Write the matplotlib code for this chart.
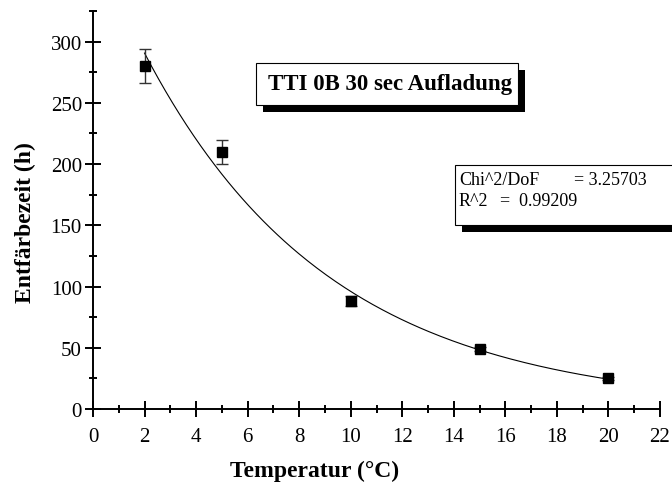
import numpy as np
import matplotlib.pyplot as plt
from matplotlib.patches import Rectangle
from matplotlib.ticker import MultipleLocator

plt.rcParams['font.family'] = ['Liberation Serif', 'DejaVu Serif']

# measured decolouring times with error bars
temps = [2, 5, 10, 15, 20]
times = [280, 210, 88, 49, 25]
errors = [14, 10, 4, 2, 1]

# ExpDec1 fit: y = y0 + A*exp(-x/t)
fit_y0 = 0.5
fit_A = 383
fit_t = 7.2

W, H = 672, 489
fig = plt.figure(figsize=(W / 100, H / 100), dpi=100)
ax = fig.add_axes([93 / W, 1 - 410 / H, (660 - 93) / W, (410 - 12) / H])

xs = np.linspace(2, 20, 200)
ax.plot(xs, fit_y0 + fit_A * np.exp(-xs / fit_t), color='black', lw=0.8)
ax.errorbar(temps, times, yerr=errors, fmt='s', color='black', ms=6.5,
            ecolor='#333333', elinewidth=1.0, capsize=4.5, capthick=1.0)

ax.set_xlim(0, 22)
ax.set_ylim(0, 325)
ax.xaxis.set_major_locator(MultipleLocator(2))
ax.xaxis.set_minor_locator(MultipleLocator(1))
ax.yaxis.set_minor_locator(MultipleLocator(25))
ax.set_yticks([0, 50, 100, 150, 200, 250, 300])
for s in ['top', 'right']:
    ax.spines[s].set_visible(False)
for s in ['left', 'bottom']:
    ax.spines[s].set_linewidth(1.4)
ax.tick_params(which='major', direction='inout', length=12, width=1.4,
               labelsize=15, pad=2)
ax.tick_params(axis='x', which='major', pad=7)
ax.tick_params(which='minor', direction='inout', length=6, width=1.4)


def px(x, y):
    # pixel position (top-left origin) -> figure fraction
    return x / W, 1 - y / H


fig.text(*px(315, 471), 'Temperatur (°C)', fontsize=17, fontweight='bold',
         ha='center', va='center')
fig.text(*px(25, 223), 'Entfärbezeit (h)', fontsize=17, fontweight='bold',
         ha='center', va='center', rotation=90)


def shadow_box(x0, y0, x1, y1, off=7):
    # white box with a black drop shadow, pixel coords
    tr = fig.transFigure
    fig.add_artist(Rectangle(px(x0 + off, y1 + off), (x1 - x0) / W, (y1 - y0) / H,
                             facecolor='black', edgecolor='none', transform=tr))
    fig.add_artist(Rectangle(px(x0, y1), (x1 - x0) / W, (y1 - y0) / H,
                             facecolor='white', edgecolor='black', lw=0.8,
                             transform=tr))


shadow_box(256, 64, 518, 106)
fig.text(*px(390, 85), 'TTI 0B 30 sec Aufladung', fontsize=16.5,
         fontweight='bold', ha='center', va='center')

shadow_box(455, 166, 700, 226)
fig.text(*px(459, 181), 'Chi^2/DoF', fontsize=13, ha='left', va='center')
fig.text(*px(574, 181), '= 3.25703', fontsize=13, ha='left', va='center')
fig.text(*px(459, 202), 'R^2', fontsize=13, ha='left', va='center')
fig.text(*px(500, 202), '=  0.99209', fontsize=13, ha='left', va='center')

fig.savefig('out.png', dpi=100)
